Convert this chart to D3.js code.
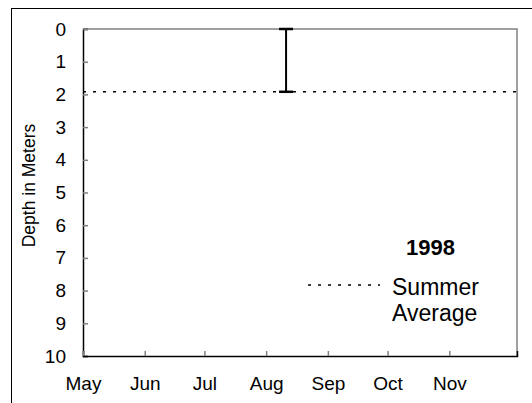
<!DOCTYPE html>
<html>
<head>
<meta charset="utf-8">
<script src="https://cdn.jsdelivr.net/npm/d3@7"></script>
<style>
  body { margin: 0; background: #fff; }
  text { font-family: "Liberation Sans", Arial, sans-serif; }
</style>
</head>
<body>
<div id="chart"></div>
<script>
// data
var monthLabels = ["May", "Jun", "Jul", "Aug", "Sep", "Oct", "Nov"];
var depthTicks = [0, 1, 2, 3, 4, 5, 6, 7, 8, 9, 10];
var sampleDates = ["1998-08-11"];
var sampleTop = [0];
var sampleDepth = [1.92];
var summerAverage = [1.92];
var yearLabel = "1998";

var W = 532, H = 403;
var margin = {left: 83, top: 29, right: 15, bottom: 47};
var parse = d3.timeParse("%Y-%m-%d");

var svg = d3.select("#chart").append("svg")
    .attr("width", W).attr("height", H);

// outer frame
svg.append("rect")
    .attr("x", 11.5).attr("y", 8.5)
    .attr("width", W + 10).attr("height", H + 10)
    .attr("fill", "none").attr("stroke", "#000").attr("stroke-width", 1);

var x = d3.scaleTime()
    .domain([parse("1998-05-01"), parse("1998-12-05")])
    .range([margin.left, W - margin.right]);
var y = d3.scaleLinear()
    .domain([0, 10])
    .range([margin.top, H - margin.bottom]);

// plot frame top/right
svg.append("path")
    .attr("d", "M" + x.range()[0] + "," + y(0) + "H" + x.range()[1] + "V" + y(10))
    .attr("fill", "none").attr("stroke", "#808080").attr("stroke-width", 1.5);

// y axis
var yAxis = d3.axisLeft(y).tickValues(depthTicks).tickSize(-5).tickPadding(17);
var gy = svg.append("g").attr("transform", "translate(" + margin.left + ",0)").call(yAxis);
gy.select(".domain").attr("stroke", "#000").attr("stroke-width", 1.5);
gy.selectAll(".tick line").attr("stroke", "#808080").attr("stroke-width", 1.5);
gy.selectAll(".tick text").attr("font-size", 19).attr("fill", "#000");

// x axis
var monthDates = monthLabels.map(function(m, i) { return new Date(1998, 4 + i, 1); });
var xAxis = d3.axisBottom(x).tickValues(monthDates)
    .tickFormat(function(d, i) { return monthLabels[i]; })
    .tickSize(-5).tickPadding(21);
var gx = svg.append("g").attr("transform", "translate(0," + y(10) + ")").call(xAxis);
gx.select(".domain").attr("stroke", "#000").attr("stroke-width", 1.5);
gx.selectAll(".tick line").attr("stroke", "#808080").attr("stroke-width", 1.5);
gx.selectAll(".tick text").attr("font-size", 19).attr("fill", "#000");

// summer average dotted line
svg.append("line")
    .attr("x1", x.range()[0]).attr("x2", x.range()[1])
    .attr("y1", y(summerAverage[0])).attr("y2", y(summerAverage[0]))
    .attr("stroke", "#000").attr("stroke-width", 1.5)
    .attr("stroke-dasharray", "3,7");

// error bars
var bars = svg.append("g").selectAll("g")
    .data(sampleDates.map(function(d, i) { return {date: parse(d), top: sampleTop[i], depth: sampleDepth[i]}; }))
    .enter().append("g");
bars.append("line")
    .attr("x1", function(d) { return x(d.date); }).attr("x2", function(d) { return x(d.date); })
    .attr("y1", function(d) { return y(d.top); }).attr("y2", function(d) { return y(d.depth); })
    .attr("stroke", "#000").attr("stroke-width", 2);
bars.selectAll(".cap")
    .data(function(d) { return [{date: d.date, v: d.top}, {date: d.date, v: d.depth}]; })
    .enter().append("line")
    .attr("x1", function(d) { return x(d.date) - 7; }).attr("x2", function(d) { return x(d.date) + 7; })
    .attr("y1", function(d) { return y(d.v); }).attr("y2", function(d) { return y(d.v); })
    .attr("stroke", "#000").attr("stroke-width", 2.5);

// y title
svg.append("text")
    .attr("transform", "translate(35,185.5) rotate(-90)")
    .attr("text-anchor", "middle")
    .attr("font-size", 17.5)
    .text("Depth in Meters");

// legend
svg.append("text")
    .attr("x", 430.5).attr("y", 254.5)
    .attr("text-anchor", "middle").attr("font-size", 22).attr("font-weight", "bold")
    .text(yearLabel);
svg.append("line")
    .attr("x1", 308).attr("x2", 380).attr("y1", 285).attr("y2", 285)
    .attr("stroke", "#000").attr("stroke-width", 1.5)
    .attr("stroke-dasharray", "3,7");
svg.append("text")
    .attr("x", 392).attr("y", 295).attr("font-size", 23)
    .text("Summer");
svg.append("text")
    .attr("x", 392).attr("y", 321).attr("font-size", 23)
    .text("Average");
</script>
</body>
</html>
